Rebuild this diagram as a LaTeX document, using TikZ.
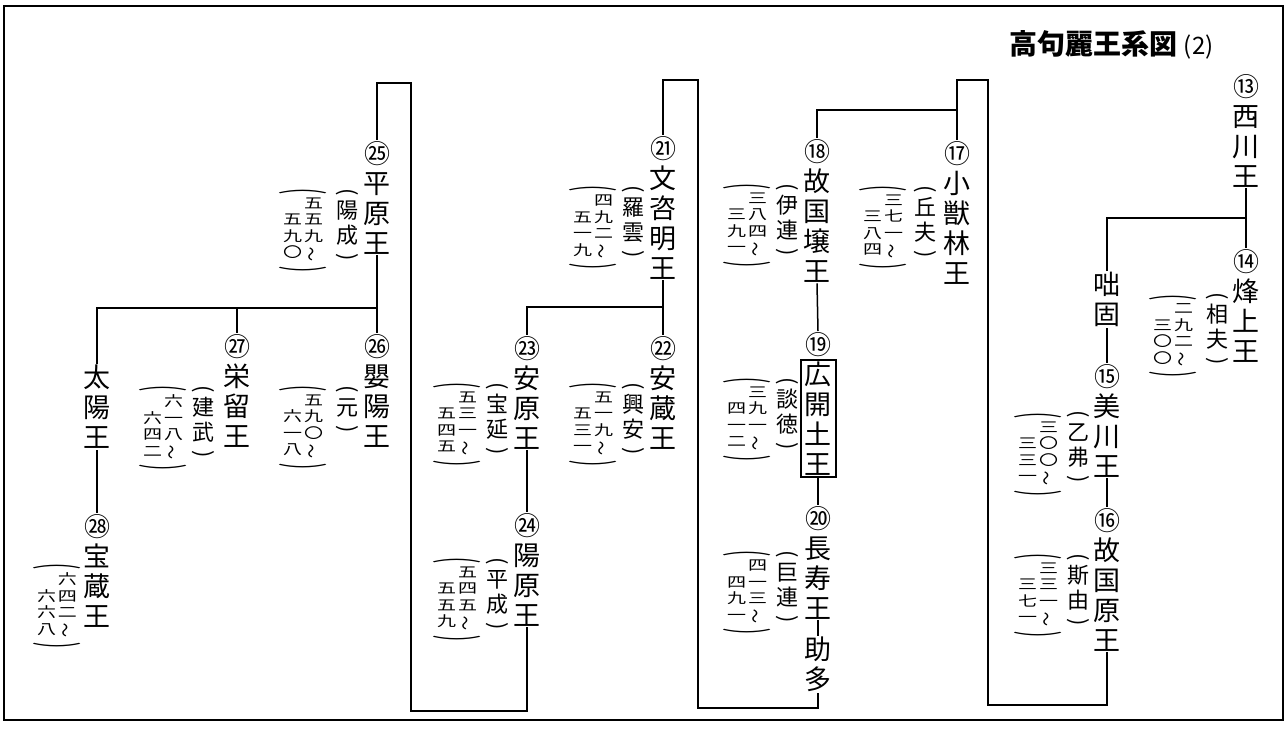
\documentclass[tikz,border=0pt]{standalone}
\usepackage{fontspec}
\usepackage{graphicx}
\setmainfont{Noto Sans CJK JP}
\usetikzlibrary{positioning}

\newcommand{\pa}{\rotatebox[origin=c]{-90}{(}}
\newcommand{\pb}{\rotatebox[origin=c]{-90}{)}}
\newcommand{\arctop}{{\fontsize{18}{18}\selectfont\scalebox{2.6}[1]{\pa}}}
\newcommand{\arcbot}{{\fontsize{18}{18}\selectfont\scalebox{2.6}[1]{\pb}}}
\newcommand{\wave}{\rotatebox[origin=c]{90}{～}}
\newcommand{\ycol}[1]{\scalebox{1}[0.75]{\vbox{\let\\\cr\baselineskip=22pt\lineskiplimit=-\maxdimen
	\halign{\hfil##\hfil\cr#1\crcr}}}}
\newcommand{\yrs}[2]{\arctop\\\ycol{#2}\hspace{2pt}\ycol{#1\\\wave}\\\arcbot}
\newcommand{\aza}[1]{\pa\\[-5pt]#1\\[-5pt]\pb}
\newcommand{\cn}[1]{{\fontsize{26}{26}\selectfont #1}}

\begin{document}
\begin{tikzpicture}[x=1pt, y=-1pt, conn/.style={line width=1.5pt}]
	\tikzset{king/.style={font=\fontsize{27}{30}\selectfont, align=center, anchor=north, inner sep=1pt}}
	\tikzset{num/.style={font=\fontsize{26}{26}\selectfont, anchor=north, inner sep=1pt}}
	\tikzset{azana/.style={font=\fontsize{22}{25}\selectfont, align=center, anchor=north, inner sep=0pt}}
	\tikzset{reign/.style={font=\fontsize{19}{17}\selectfont, align=center, anchor=north, inner sep=0pt}}
	\useasboundingbox (0,0) rectangle (1288,731);
	\draw[line width=1.5pt] (4,6) rectangle (1283,720);

	\node[anchor=west] (title) at (1006,45) {\fontsize{28}{28}\selectfont\bfseries 高句麗王系図\ {\fontsize{24}{24}\selectfont\mdseries (2)}};

	% right block
	\node[king] (k13) at (1246,73) {\cn{⑬}\\西\\川\\王};
	\node[king] (k14) at (1246,248) {\cn{⑭}\\烽\\上\\王};
	\node[azana] (a14) at (1217,292) {\aza{相\\夫}};
	\node[reign] (y14) at (1173,294) {\yrs{二\\九\\二}{三\\〇\\〇}};
	\node[king] (dolgo) at (1107,271) {咄\\固};
	\node[king] (k15) at (1107,363) {\cn{⑮}\\美\\川\\王};
	\node[azana] (a15) at (1078,410) {\aza{乙\\弗}};
	\node[reign] (y15) at (1038,412) {\yrs{三\\〇\\〇}{三\\三\\一}};
	\node[king] (k16) at (1107,507) {\cn{⑯}\\故\\国\\原\\王};
	\node[azana] (a16) at (1078,553) {\aza{斯\\由}};
	\node[reign] (y16) at (1038,553) {\yrs{三\\三\\一}{三\\七\\一}};

	% second block
	\node[king] (k17) at (957,140) {\cn{⑰}\\小\\獣\\林\\王};
	\node[azana] (a17) at (925,185) {\aza{丘\\夫}};
	\node[reign] (y17) at (883,185) {\yrs{三\\七\\一}{三\\八\\四}};
	\node[king] (k18) at (817,138) {\cn{⑱}\\故\\国\\壌\\王};
	\node[azana] (a18) at (787,183) {\aza{伊\\連}};
	\node[reign] (y18) at (747,183) {\yrs{三\\八\\四}{三\\九\\一}};
	\node[num] (n19) at (818,331) {⑲};
	\node[king, draw, line width=2pt, inner xsep=4pt, inner ysep=2pt, below=1pt of n19] (k19) {広\\開\\土\\王};
	\node[azana] (a19) at (787,377) {\aza{談\\徳}};
	\node[reign] (y19) at (747,377) {\yrs{三\\九\\一}{四\\一\\二}};
	\node[king] (k20) at (818,505) {\cn{⑳}\\長\\寿\\王};
	\node[azana] (a20) at (787,550) {\aza{巨\\連}};
	\node[reign] (y20) at (747,550) {\yrs{四\\一\\三}{四\\九\\一}};
	\node[king] (joda) at (818,636) {助\\多};

	% third block
	\node[king] (k21) at (663,135) {\cn{㉑}\\文\\咨\\明\\王};
	\node[azana] (a21) at (633,185) {\aza{羅\\雲}};
	\node[reign] (y21) at (593,185) {\yrs{四\\九\\二}{五\\一\\九}};
	\node[king] (k22) at (663,335) {\cn{㉒}\\安\\蔵\\王};
	\node[azana] (a22) at (633,382) {\aza{興\\安}};
	\node[reign] (y22) at (593,382) {\yrs{五\\一\\九}{五\\三\\一}};
	\node[king] (k23) at (527,335) {\cn{㉓}\\安\\原\\王};
	\node[azana] (a23) at (497,382) {\aza{宝\\延}};
	\node[reign] (y23) at (457,382) {\yrs{五\\三\\一}{五\\四\\五}};
	\node[king] (k24) at (527,512) {\cn{㉔}\\陽\\原\\王};
	\node[azana] (a24) at (497,557) {\aza{平\\成}};
	\node[reign] (y24) at (457,557) {\yrs{五\\四\\五}{五\\五\\九}};

	% left block
	\node[king] (k25) at (377,140) {\cn{㉕}\\平\\原\\王};
	\node[azana] (a25) at (347,188) {\aza{陽\\成}};
	\node[reign] (y25) at (303,188) {\yrs{五\\五\\九}{五\\九\\〇}};
	\node[king] (k26) at (377,333) {\cn{㉖}\\嬰\\陽\\王};
	\node[azana] (a26) at (347,385) {\aza{元}};
	\node[reign] (y26) at (303,385) {\yrs{五\\九\\〇}{六\\一\\八}};
	\node[king] (k27) at (237,333) {\cn{㉗}\\栄\\留\\王};
	\node[azana] (a27) at (203,385) {\aza{建\\武}};
	\node[reign] (y27) at (163,385) {\yrs{六\\一\\八}{六\\四\\二}};
	\node[king] (taeyang) at (97,364) {太\\陽\\王};
	\node[king] (k28) at (97,513) {\cn{㉘}\\宝\\蔵\\王};
	\node[reign] (y28) at (57,563) {\yrs{六\\四\\二}{六\\六\\八}};

	\coordinate (b13) at (1246,218);
	\coordinate (lp1) at (988,705);
	\coordinate (lp2) at (957,80);
	\coordinate (b17) at (957,110);
	\coordinate (lp3) at (698,708);
	\coordinate (lp4) at (663,80);
	\coordinate (b21) at (663,307);
	\coordinate (lp5) at (411,711);
	\coordinate (lp6) at (377,83);
	\coordinate (b25) at (377,308);

	\draw [conn] (k13.south) -- (k14.north);
	\draw [conn] (b13) -| (dolgo.north);
	\draw [conn] (dolgo.south) -- (k15.north);
	\draw [conn] (k15.south) -- (k16.north);
	\draw [conn] (k16.south) |- (lp1) |- (lp2) -- (k17.north);
	\draw [conn] (b17) -| (k18.north);
	\draw [conn] (k18.south) -- (n19.north);
	\draw [conn] (k19.south) -- (k20.north);
	\draw [conn] (k20.south) -- (joda.north);
	\draw [conn] (joda.south) |- (lp3) |- (lp4) -- (k21.north);
	\draw [conn] (k21.south) -- (k22.north);
	\draw [conn] (b21) -| (k23.north);
	\draw [conn] (k23.south) -- (k24.north);
	\draw [conn] (k24.south) |- (lp5) |- (lp6) -- (k25.north);
	\draw [conn] (k25.south) -- (k26.north);
	\draw [conn] (b25) -| (k27.north);
	\draw [conn] (b25) -| (taeyang.north);
	\draw [conn] (taeyang.south) -- (k28.north);
\end{tikzpicture}
\end{document}
